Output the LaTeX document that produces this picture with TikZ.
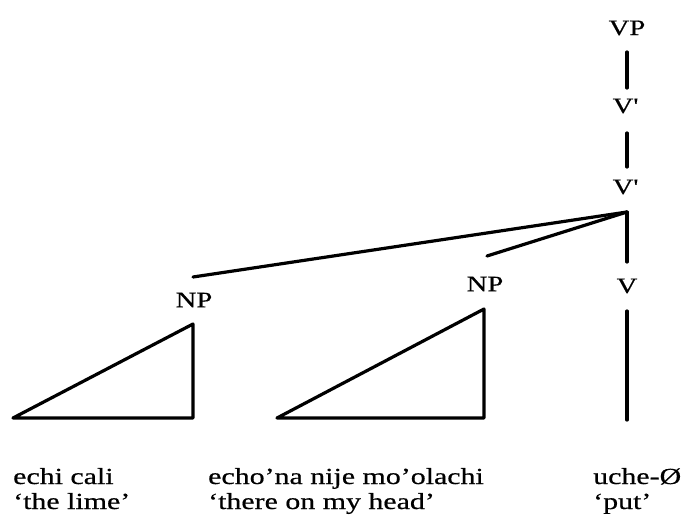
\documentclass[tikz,border=0pt]{standalone}
\usepackage{fontspec}
\setmainfont{Liberation Serif}[FakeStretch=1.3,FakeBold=0.6]
\begin{document}
\begin{tikzpicture}[x=1pt,y=1pt,
  branch/.style={line width=3.2pt,line cap=round,line join=round},
  cat/.style={inner sep=0pt,font=\fontsize{22}{24}\selectfont},
  gloss/.style={inner sep=0pt,anchor=base west,font=\fontsize{23}{24}\selectfont}]
\useasboundingbox (0,0) rectangle (682,-524);
% category labels
\node[cat] (vp) at (627,-28) {VP};
\node[cat] (vbar1) at (625,-106) {V\textquotesingle};
\node[cat] (vbar2) at (625,-187) {V\textquotesingle};
\node[cat] (np1) at (194,-300) {NP};
\node[cat] (np2) at (485,-284) {NP};
\node[cat] (v) at (627,-286) {V};
% branch end points
\coordinate (a1) at (627,-52);
\coordinate (a2) at (627,-88);
\coordinate (b1) at (627,-133);
\coordinate (b2) at (627,-167);
\coordinate (j) at (627,-212);
\coordinate (n1) at (193,-277);
\coordinate (n2) at (487,-256);
\coordinate (vt) at (627,-262);
\coordinate (vl1) at (627,-311);
\coordinate (vl2) at (627,-420);
% triangles
\coordinate (t1a) at (13,-418);
\coordinate (t1b) at (193,-324);
\coordinate (t1c) at (193,-418);
\coordinate (t2a) at (277,-418);
\coordinate (t2b) at (484,-309);
\coordinate (t2c) at (484,-418);
\draw[branch] (a1) -- (a2);
\draw[branch] (b1) -- (b2);
\draw[branch] (j) -- (n1);
\draw[branch] (j) -- (n2);
\draw[branch] (j) -- (vt);
\draw[branch] (vl1) -- (vl2);
\draw[branch] (t1a) -- (t1b) -- (t1c) -- cycle;
\draw[branch] (t2a) -- (t2b) -- (t2c) -- cycle;
% glosses
\node[gloss] (w1) at (13,-484) {echi cali};
\node[gloss] (g1) at (13,-509) {‘the lime’};
\node[gloss] (w2) at (208,-484) {echo’na nije mo’olachi};
\node[gloss] (g2) at (208,-509) {‘there on my head’};
\node[gloss] (w3) at (593,-484) {uche-Ø};
\node[gloss] (g3) at (593,-509) {‘put’};
\end{tikzpicture}
\end{document}
